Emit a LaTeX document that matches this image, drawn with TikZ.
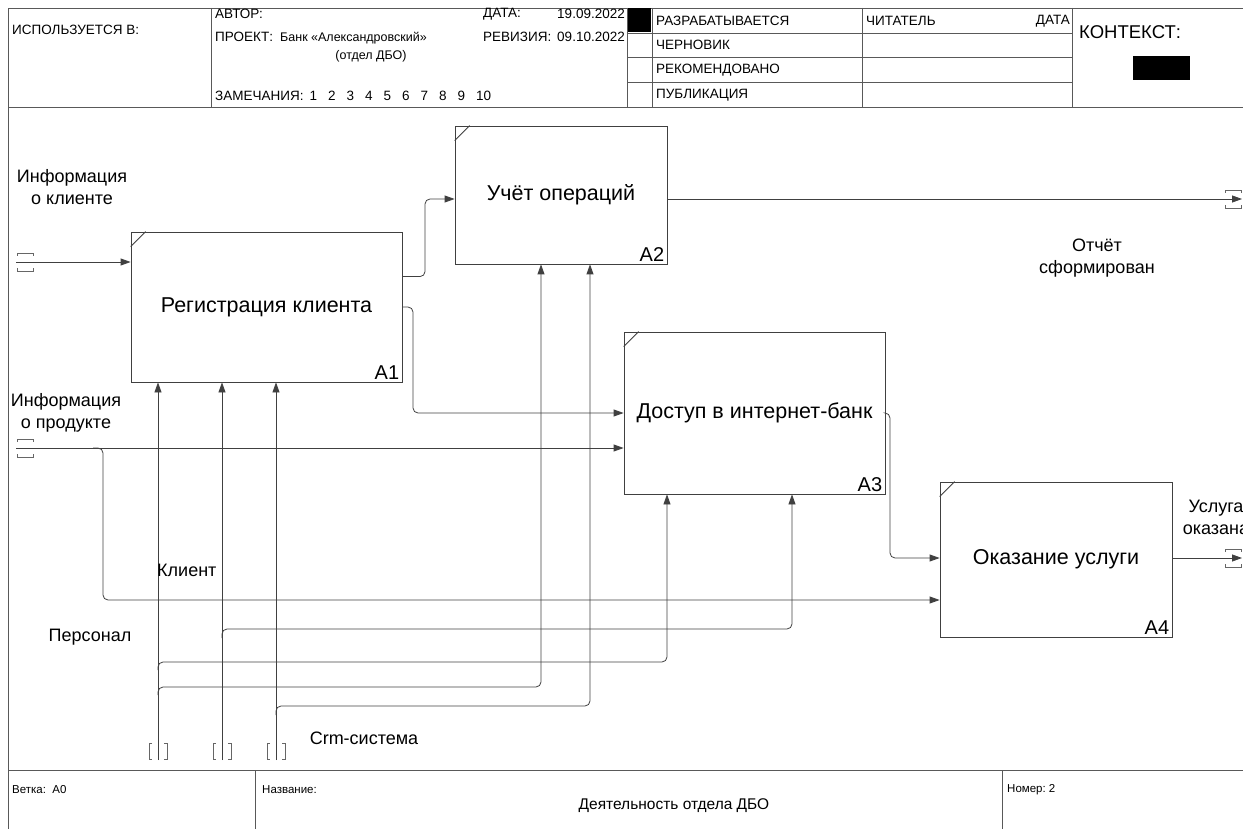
\documentclass[tikz,border=0pt]{standalone}
\usepackage{fontspec}
\setmainfont{Liberation Sans}
\usetikzlibrary{arrows.meta,calc}
\newcommand{\tunh}[1]{% brackets round a horizontal arrow end
  \draw[tun] ($(#1)+(1,-6)$) -- ++(0,-3) -- ++(16,0) -- ++(0,3)
             ($(#1)+(1,6)$) -- ++(0,3) -- ++(16,0) -- ++(0,-3);}
\newcommand{\tunv}[1]{% brackets round a vertical arrow end
  \draw[tun] ($(#1)+(-6,-8)$) -- ++(-3,0) -- ++(0,16) -- ++(3,0)
             ($(#1)+(6,-8)$) -- ++(3,0) -- ++(0,16) -- ++(-3,0);}
\newcommand{\nsp}{\hspace{11pt}}

\begin{document}
\begin{tikzpicture}[
  x=1pt, y=-1pt,
  >={Triangle[length=10pt,width=7pt]},
  ln/.style={line width=0.8pt, draw=black!75},
  arr/.style={ln, ->, rounded corners=5pt},
  frm/.style={line width=0.8pt, draw=black!65},
  tun/.style={line width=0.6pt, draw=black!60},
  box/.style={ln, fill=white, inner sep=0pt,
    font=\fontsize{21.5}{25}\selectfont},
  num/.style={anchor=south east, inner sep=3pt,
    font=\fontsize{20}{24}\selectfont},
  lab/.style={align=center, inner sep=0pt,
    font=\fontsize{18}{22}\selectfont},
  hdr/.style={anchor=west, inner sep=0pt, font=\fontsize{13.5}{15}\selectfont},
  hdrbig/.style={anchor=west, inner sep=0pt, font=\fontsize{12.5}{15}\selectfont},
  foot/.style={anchor=west, inner sep=0pt, font=\fontsize{11.5}{13}\selectfont}
]
\useasboundingbox (0,0) rectangle (1243,829);
% ---- form frame ----
\draw[frm] (8,829) -- (8,8) -- (1243,8);
\draw[frm] (8,107) -- (1243,107);
\draw[frm] (8,770) -- (1243,770);
\foreach \x in {211,627,652,862,1072} \draw[frm] (\x,8) -- (\x,107);
\foreach \y in {33,57,82} \draw[frm] (627,\y) -- (1072,\y);
\foreach \x in {255,1002} \draw[frm] (\x,770) -- (\x,829);
\fill (628,8) rectangle (651,32);
\fill (1133,56) rectangle (1190,80);
% ---- header texts ----
\node[hdr] (used) at (12,30) {ИСПОЛЬЗУЕТСЯ В:};
\node[hdr] (author) at (215,14) {АВТОР:};
\node[hdr] (date) at (483,14) {ДАТА:};
\node[hdr, anchor=east] (dateval) at (625,14) {19.09.2022};
\node[hdr] (proj) at (215,37) {ПРОЕКТ:};
\node[hdrbig] (projname) at (280,38) {Банк «Александровский»};
\node[hdrbig, anchor=center] (dept) at (371,56) {(отдел ДБО)};
\node[hdr] (rev) at (483,37) {РЕВИЗИЯ:};
\node[hdr, anchor=east] (revval) at (625,37) {09.10.2022};
\node[hdr] (notes) at (215,96)
  {ЗАМЕЧАНИЯ:\hspace{6pt}1\nsp 2\nsp 3\nsp 4\nsp 5\nsp 6\nsp 7\nsp 8\nsp 9\nsp 10};
\node[hdr] (st1) at (656,21) {РАЗРАБАТЫВАЕТСЯ};
\node[hdr] (st2) at (656,45) {ЧЕРНОВИК};
\node[hdr] (st3) at (656,70) {РЕКОМЕНДОВАНО};
\node[hdr] (st4) at (656,95) {ПУБЛИКАЦИЯ};
\node[hdr] (reader) at (866,21) {ЧИТАТЕЛЬ};
\node[hdr, anchor=east] (rdate) at (1070,21) {ДАТА};
\node[anchor=west, inner sep=0pt, font=\fontsize{18.5}{21}\selectfont]
  (ctx) at (1079,32) {КОНТЕКСТ:};
% ---- footer texts ----
\node[foot] (node) at (12,790) {Ветка:\ \ A0};
\node[foot] (title) at (262,790) {Название:};
\node[inner sep=0pt, font=\fontsize{15.5}{18}\selectfont]
  (titletxt) at (674,806) {Деятельность отдела ДБО};
\node[foot] (number) at (1007,790) {Номер:\ 2};
% ---- activity boxes ----
\node[box, minimum width=271pt, minimum height=150pt] (a1) at (266.5,307)
  {Регистрация клиента};
\node[box, minimum width=212pt, minimum height=138pt] (a2) at (561,195)
  {Учёт операций};
\node[box, minimum width=261pt, minimum height=162pt] (a3) at (754.5,413)
  {Доступ в интернет-банк};
\node[box, minimum width=232pt, minimum height=155pt] (a4) at (1056,559.5)
  {Оказание услуги};
\foreach \b/\n in {a1/A1,a2/A2,a3/A3,a4/A4}{
  \draw[ln] ([yshift=-15pt]\b.north west) -- ([xshift=15pt]\b.north west);
  \node[num] (n\b) at (\b.south east) {\n};
}
% ---- tunnel ends ----
\coordinate (inC) at (16,262);
\coordinate (inP) at (16,448);
\coordinate (outR) at (1242,199);
\coordinate (outU) at (1242,558);
\coordinate (mK) at (158,760);
\coordinate (mS) at (222,760);
\coordinate (mC) at (276,760);
\tunh{16,262} \tunh{16,448} \tunh{1224,199} \tunh{1224,558}
\tunv{158,751} \tunv{222,751} \tunv{276,751}
% ---- inputs and outputs ----
\draw[arr] (inC) -- (inC -| a1.west);
\draw[arr] (inP) -- (inP -| a3.west);
\coordinate (pbr) at (103,600);
\draw[arr] ($(inP)+(77,0)$) -| (pbr) -- (pbr -| a4.west);
\coordinate (b12) at (425,199);
\draw[arr] ([yshift=-45pt]a1.north east) -| (b12) -- (b12 -| a2.west);
\coordinate (b13) at (413,413);
\draw[arr] (a1.east) -| (b13) -- (b13 -| a3.west);
\draw[arr] (a2.east |- outR) -- (outR);
\coordinate (b34) at (890,558);
\draw[arr] (a3.east) -| (b34) -- (b34 -| a4.west);
\draw[arr] (a4.east |- outU) -- (outU);
% ---- controls and mechanisms from below ----
\draw[arr] (mK) -- (mK |- a1.south);
\draw[arr] (mS) -- (mS |- a1.south);
\draw[arr] (mC) -- (mC |- a1.south);
\coordinate (kA3) at (667,662);
\draw[arr] ($(mK)+(0,-90)$) |- (kA3) -- (kA3 |- a3.south);
\coordinate (kA2) at (541,687);
\draw[arr] ($(mK)+(0,-65)$) |- (kA2) -- (kA2 |- a2.south);
\coordinate (sA3) at (792,629);
\draw[arr] ($(mS)+(0,-122)$) |- (sA3) -- (sA3 |- a3.south);
\coordinate (cA2) at (590,706);
\draw[arr] ($(mC)+(0,-45)$) |- (cA2) -- (cA2 |- a2.south);
% ---- arrow labels ----
\node[lab] (lC) at (72,187) {Информация\\о клиенте};
\node[lab] (lP) at (66,413) {Информация\\о продукте};
\node[lab] (lR) at (1097,258) {Отчёт\\сформирован};
\node[lab] (lU) at (1216,517) {Услуга\\оказана};
\node[lab, anchor=west] (lK) at (157,570) {Клиент};
\node[lab] (lPer) at (90,637) {Персонал};
\node[lab] (lCrm) at (364,738) {Crm-система};
\end{tikzpicture}
\end{document}
